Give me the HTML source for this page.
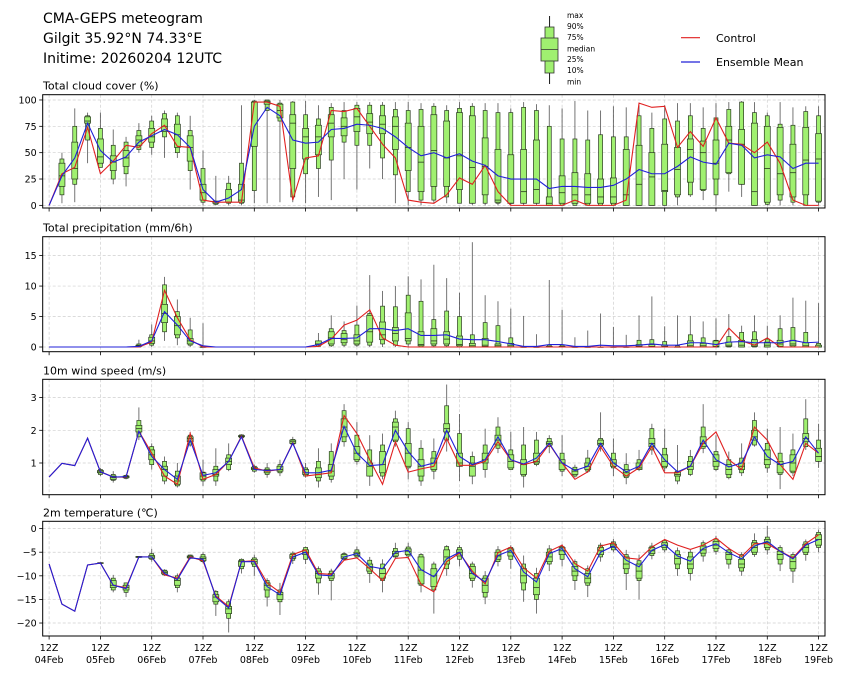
<!DOCTYPE html>
<html><head><meta charset="utf-8"><style>
body{margin:0;background:#fff;}
svg{display:block;font-family:"DejaVu Sans","Liberation Sans",sans-serif;}
</style></head><body>
<svg id="chart" width="846" height="680" viewBox="0 0 846 680">
<g>
<text x="43" y="23" font-size="14" fill="#000">CMA-GEPS meteogram</text>
<text x="43" y="43" font-size="14" fill="#000">Gilgit 35.92°N 74.33°E</text>
<text x="43" y="63" font-size="14" fill="#000">Initime: 20260204 12UTC</text>
</g>
<g>
<line x1="549.6" y1="16" x2="549.6" y2="84" stroke="#000" stroke-width="0.9"/>
<rect x="545" y="27" width="9" height="46" fill="#a0f070" stroke="#333" stroke-width="0.8"/>
<rect x="541" y="38" width="17" height="23" fill="#a0f070" stroke="#333" stroke-width="0.8"/>
<line x1="541" y1="49.5" x2="558" y2="49.5" stroke="#333" stroke-width="0.8"/>
<g font-size="7.5" fill="#000">
<text x="567" y="18">max</text><text x="567" y="29">90%</text><text x="567" y="40">75%</text><text x="567" y="51.5">median</text><text x="567" y="62">25%</text><text x="567" y="73">10%</text><text x="567" y="84.5">min</text>
</g>
</g>
<g>
<line x1="681" y1="37.7" x2="700" y2="37.7" stroke="#e02020" stroke-width="1.2"/>
<text x="716" y="42" font-size="11">Control</text>
<line x1="681" y1="62" x2="700" y2="62" stroke="#2020d8" stroke-width="1.2"/>
<text x="716" y="66" font-size="11">Ensemble Mean</text>
</g>
<g id="panels"></g>
</svg>
<script>
// ---- data ----
const dayLabels = ["04Feb","05Feb","06Feb","07Feb","08Feb","09Feb","10Feb","11Feb","12Feb","13Feb","14Feb","15Feb","16Feb","17Feb","18Feb","19Feb"];
const cloudTicks = [0,25,50,75,100];
const precipTicks = [0,5,10,15];
const windTicks = [1,2,3];
const tempTicks = [0,-5,-10,-15,-20];

const cloudBoxes = [null,[2,10,18,28,40,44,50],[3,20,25,35,60,75,92],[40,62,78,80,84,85,88],[38,36,40,46,63,73,88],[20,25,33,41,47,57,72],[18,30,37,45,52,60,65],[50,53,57,62,66,71,78],[48,55,60,65,73,80,85],[45,65,70,75,82,87,90],[45,50,55,67,77,85,88],[15,33,42,55,66,71,85],[0,3,5,12,20,35,52],[0,1,2,3,4,4,28],[0,2,3,3,15,21,28],[0,2,3,5,20,40,95],[2,14,56,98,98,99,100],[2,90,96,98,99,100,100],[3,80,83,90,96,97,100],[3,8,35,78,86,98,99],[2,30,44,65,73,86,99],[8,35,48,65,76,82,95],[5,43,65,78,86,93,97],[25,60,66,75,83,90,98],[15,57,70,84,92,95,98],[35,57,68,79,87,95,98],[25,45,68,77,85,95,98],[2,29,53,75,84,91,98],[0,13,33,55,78,90,98],[0,5,13,41,75,91,97],[2,5,18,52,86,94,97],[2,8,18,45,80,90,95],[2,2,15,47,88,92,98],[0,2,2,36,85,94,97],[0,2,10,37,64,90,97],[0,2,3,5,53,88,97],[0,2,2,2,48,88,92],[0,2,2,13,53,93,98],[0,2,2,15,62,90,96],[0,0,0,2,8,75,95],[0,0,2,12,28,63,92],[0,0,2,10,31,63,99],[0,0,2,10,30,62,90],[0,0,2,8,25,67,90],[0,0,2,8,26,65,94],[0,0,0,10,53,65,93],[0,0,0,20,57,85,95],[0,0,0,27,50,73,88],[0,0,13,14,58,82,95],[0,8,10,34,55,80,97],[8,10,22,53,63,85,97],[5,14,15,50,61,73,93],[0,10,25,40,62,83,97],[13,30,31,62,75,91,98],[8,20,20,58,72,98,99],[0,0,0,13,78,88,98],[0,1,3,35,75,85,88],[0,5,10,30,74,77,98],[0,3,8,31,58,76,93],[0,0,10,43,74,89,94],[0,3,4,44,68,85,94]];
const cloudCtrl = [0,30,36,74,30,42,57,55,68,76,56,55,5,3,3,3,98,98,94,5,45,47,90,89,92,75,58,45,5,3,2,10,26,20,38,13,0,0,0,0,0,5,0,0,0,5,97,93,94,55,70,56,83,59,58,50,60,40,5,0,0];
const cloudMean = [0,28,45,78,52,41,46,60,66,72,67,55,15,3,7,15,75,93,85,62,59,60,72,73,77,76,73,65,55,47,50,45,49,42,38,28,25,25,25,16,18,18,17,17,19,25,34,30,30,37,46,41,39,59,57,45,48,46,35,40,40];

const precipBoxes = [null,null,null,null,null,null,null,[0,0,0.1,0.2,0.3,0.5,1.2],[0,0.3,0.6,1,1.6,2,3.7],[1,2.5,4,5.5,7,10.2,11.5],[0.3,1.5,2,3.5,5,5.8,7.8],[0,0.3,0.5,1,1.4,2.8,4.8],[0,0,0,0,0,0,3.9],null,null,null,null,null,null,null,null,[0,0.1,0.3,0.5,1,1,2.3],[0,0.2,0.5,1.5,2.5,3,5.2],[0,0.3,0.7,1.2,2.2,2.7,4.2],[0,0.3,0.5,1,2,3.6,6.8],[0,0.3,0.8,2.5,5.2,5.5,11.8],[0,0.5,1.2,2,4.1,6.7,9.2],[0,0.3,1,2.2,3.2,6.6,10],[0,0.5,1,1.4,5.6,8.5,11.6],[0,0,0.2,0.4,2.5,7.5,11.1],[0,0.2,0.5,1,3,4.5,13.5],[0,0.2,0.5,1.3,2.5,5.9,11.3],[0,0,0.2,0.4,1.8,5,8.9],[0,0,0,0.2,0.6,2,17.2],[0,0,0.1,0.3,1.4,4,8.5],[0,0,0,0.2,0.5,3.5,7.5],[0,0,0,0.2,0.6,1.5,6.3],[0,0,0,0,0,0,5.1],[0,0,0,0,0,0,2.1],[0,0,0,0,0.1,0.3,11],[0,0,0,0,0.1,0.3,6.1],[0,0,0,0,0,0,1.6],[0,0,0,0,0,0,2.7],[0,0,0,0,0,0,5.5],[0,0,0,0,0,0,3.3],[0,0,0,0,0,0,2],[0,0,0,0.1,0.4,1.1,5.2],[0,0,0,0.1,0.4,1.2,8.3],[0,0,0,0.1,0.3,0.9,3.4],[0,0,0,0,0,0.2,5.2],[0,0,0,0.2,1,2,5.1],[0,0,0,0.2,0.6,1.5,4.2],[0,0,0,0.1,1,1.1,4.7],[0,0,0.1,0.3,0.8,1.7,5.4],[0,0,0,0.3,1.1,2.4,3.5],[0,0,0.1,0.3,1.2,2.5,5.2],[0,0,0,0.3,0.8,1.3,3.5],[0,0,0.1,0.5,1.1,3,5.2],[0,0,0.2,0.5,1.1,3.2,8.1],[0,0,0,0.2,0.7,2.4,7.6],[0,0,0,0,0.3,0.6,7.2]];
const precipCtrl = [0,0,0,0,0,0,0,0,0.8,9.3,4.8,1.2,0,0,0,0,0,0,0,0,0,0.1,1.3,3.6,4.4,6.1,1.5,0.3,0,0,0,0,0,0,0,0,0,0,0,0,0,0,0,0,0,0,0,0,0,0,0,0,0,3.1,1,0.3,1.5,0,0,0,0];
const precipMean = [0,0,0,0,0,0,0,0.1,1.0,5.8,3.6,1.0,0.2,0,0,0,0,0,0,0,0,0.4,1.4,1.4,1.5,3.0,3.0,2.7,3.0,1.9,1.9,2.0,1.3,1.2,1.2,0.9,0.5,0.1,0.1,0.4,0.4,0.1,0.1,0.3,0.2,0.2,0.3,0.5,0.3,0.3,0.7,0.7,0.4,0.8,0.9,0.7,0.7,0.7,1.1,0.7,0.8];

const windBoxes = [null,null,null,null,[0.6,0.65,0.7,0.73,0.77,0.8,0.85],[0.4,0.47,0.5,0.55,0.6,0.65,0.75],[0.5,0.53,0.55,0.58,0.6,0.62,0.65],[1.7,1.8,1.95,2.05,2.15,2.3,2.7],[0.8,0.95,1.1,1.25,1.4,1.5,1.6],[0.35,0.45,0.6,0.8,0.9,1.05,1.2],[0.25,0.3,0.35,0.45,0.6,0.75,1.0],[1.5,1.55,1.65,1.75,1.8,1.85,1.95],[0.3,0.45,0.5,0.6,0.7,0.72,1.1],[0.3,0.45,0.6,0.65,0.8,0.9,1.45],[0.75,0.8,0.95,1.05,1.15,1.25,1.6],[1.75,1.77,1.8,1.82,1.84,1.86,1.88],[0.7,0.75,0.8,0.83,0.87,0.9,0.95],[0.55,0.65,0.7,0.75,0.8,0.85,1.0],[0.6,0.7,0.75,0.8,0.9,0.95,1.1],[1.55,1.58,1.6,1.65,1.7,1.72,1.8],[0.55,0.6,0.65,0.7,0.8,0.85,1.0],[0.25,0.45,0.55,0.65,0.85,1.05,1.45],[0.4,0.5,0.6,0.75,0.95,1.35,1.6],[1.5,1.65,1.8,2.1,2.35,2.6,2.8],[0.95,1.05,1.1,1.3,1.5,1.85,2.25],[0.3,0.6,0.6,0.9,1.0,1.4,1.85],[0.5,0.6,0.7,0.95,1.35,1.55,1.9],[1.5,1.65,1.7,2.1,2.25,2.35,2.6],[0.5,0.85,0.9,1.3,1.6,2.05,2.25],[0.3,0.45,0.6,0.9,1.1,1.45,1.7],[0.5,0.75,0.8,1.0,1.15,1.35,1.75],[1.35,1.7,1.95,2.05,2.2,2.75,3.4],[0.45,0.9,0.9,1.0,1.3,1.9,2.5],[0.35,0.6,0.6,0.9,1.0,1.2,1.35],[0.55,0.8,1.0,1.1,1.3,1.55,2.05],[1.3,1.45,1.55,1.7,1.85,2.1,2.4],[0.8,0.8,0.85,1.05,1.25,1.4,1.95],[0.25,0.6,0.65,0.95,1.1,1.55,2.1],[0.9,0.95,1.0,1.05,1.3,1.7,1.95],[1.3,1.5,1.55,1.6,1.65,1.75,1.85],[0.6,0.75,0.8,1.0,1.1,1.3,1.85],[0.55,0.6,0.65,0.75,0.8,0.87,0.95],[0.7,0.75,0.8,0.9,1.0,1.15,1.4],[1.35,1.5,1.55,1.6,1.7,1.75,2.55],[0.6,0.85,0.9,1.0,1.1,1.3,1.75],[0.35,0.55,0.6,0.7,0.8,0.95,1.3],[0.75,0.8,0.8,0.85,1.0,1.1,1.4],[1.25,1.4,1.5,1.6,1.75,2.05,2.2],[0.75,0.85,0.9,1.05,1.25,1.45,2.05],[0.35,0.45,0.6,0.65,0.72,0.75,1.55],[0.6,0.65,0.8,0.9,1.05,1.2,1.4],[1.3,1.45,1.5,1.6,1.8,2.1,2.8],[0.75,0.8,0.9,1.05,1.25,1.35,1.85],[0.5,0.55,0.65,0.8,0.95,1.1,1.35],[0.6,0.7,0.8,0.9,1.0,1.15,1.6],[1.5,1.55,1.7,1.8,2.0,2.3,2.55],[0.7,0.85,0.95,1.1,1.4,1.6,2.05],[0.2,0.65,0.7,0.95,1.05,1.3,2.1],[0.6,0.7,0.75,1.0,1.25,1.4,1.9],[1.4,1.5,1.65,1.75,1.9,2.35,2.95],[0.85,1.05,1.05,1.2,1.45,1.7,2.2]];
const windCtrl = [0.57,0.99,0.92,1.76,0.73,0.57,0.57,1.97,1.3,0.6,0.35,1.9,0.5,0.65,1.05,1.82,0.85,0.75,0.8,1.62,0.6,0.65,0.7,2.45,1.9,1.1,0.35,1.65,0.72,0.82,0.9,1.75,0.93,0.93,1.05,1.65,1.1,0.95,1.05,1.58,1.0,0.5,0.73,1.5,0.9,0.6,0.85,1.5,0.7,0.7,0.9,1.6,1.95,1.1,0.8,2.1,1.7,0.95,0.5,1.6,1.3];
const windMean = [0.57,0.99,0.92,1.76,0.73,0.57,0.58,1.97,1.2,0.8,0.5,1.7,0.62,0.7,1.05,1.8,0.8,0.77,0.8,1.6,0.7,0.7,0.78,2.12,1.3,0.92,0.95,2.0,1.35,0.9,1.0,2.0,1.2,0.95,1.1,1.8,1.1,0.97,1.15,1.6,1.0,0.77,0.9,1.6,1.0,0.73,0.9,1.6,1.1,0.73,0.9,1.7,1.1,0.88,1.0,1.8,1.2,0.95,1.05,1.8,1.3];

const tempBoxes = [null,null,null,null,[-7.5,-7.4,-7.35,-7.3,-7.25,-7.2,-7.1],[-13.5,-13,-12.5,-12,-11,-10.5,-9.8],[-14.5,-13.5,-13,-12.5,-12,-11.5,-11.5],[-6.2,-6.1,-6.1,-6,-5.9,-5.9,-5.8],[-7,-6.5,-6.3,-6,-5.7,-5.3,-4.3],[-10,-9.8,-9.6,-9.3,-9,-8.8,-8.6],[-13.5,-12.5,-12,-11,-10.5,-10,-9.5],[-6.5,-6.3,-6.2,-6,-5.8,-5.6,-5.5],[-7.3,-7,-6.8,-6.3,-6,-5.5,-5],[-18.5,-16,-15.5,-14.5,-14,-13.3,-13],[-22,-19,-18,-17,-16.5,-15.5,-15],[-9.5,-8.5,-8,-7,-6.8,-6.5,-6.3],[-10,-8,-7.5,-7,-6.5,-6.2,-5.5],[-16.5,-14.5,-13,-12,-11.5,-11,-10.5],[-18.3,-15.5,-15,-14,-13.5,-13,-11.5],[-7.5,-6.7,-6.3,-6,-5.5,-5.2,-4.8],[-7.5,-6.5,-5.5,-5,-4.5,-4,-3.8],[-14,-11.5,-10.5,-9.5,-9,-8.5,-8],[-15.2,-11,-10.5,-10,-9.5,-9,-8.5],[-6.8,-6.5,-6.3,-6,-5.5,-5.3,-5],[-6.3,-6,-5.7,-5.3,-5,-4.5,-3.8],[-11.5,-9.5,-9,-8.3,-7.5,-6.7,-6],[-13.5,-11,-10.5,-9.5,-8.5,-7.5,-6.5],[-6.3,-6,-5.8,-5.3,-4.8,-4.2,-3],[-6.5,-5.8,-5.5,-4.8,-4.3,-3.9,-3],[-13.5,-12,-11.7,-8.8,-6,-5.5,-5.2],[-18,-13,-12.3,-10,-8.5,-7.5,-7],[-10,-8.5,-7.5,-6,-4.5,-3.8,-3.5],[-8,-6.5,-5.8,-5,-4.5,-4,-3.5],[-12.5,-11,-10.5,-9.5,-8,-7.5,-7],[-16,-14.5,-13.5,-12,-10.5,-10,-9],[-8,-7,-6.5,-5.8,-5,-4.5,-3.7],[-8.5,-6.5,-5.8,-5,-4.3,-4,-3.5],[-15.5,-13,-11.5,-10,-8.5,-7.5,-5.7],[-18,-15,-14,-12.5,-10.5,-9.5,-8.3],[-9,-7.5,-7,-6,-5,-4.3,-3.5],[-8,-6.5,-5.5,-4.7,-4,-3.8,-3.3],[-13,-11,-10,-9,-8,-7,-6.5],[-14.5,-12,-11.5,-10.5,-9.5,-8.5,-7.8],[-7,-6,-5.5,-4.7,-4,-3.5,-3],[-5,-4.5,-4,-3.7,-3.3,-2.8,-2.2],[-13,-9.5,-8.5,-7.5,-6,-5.5,-4.5],[-15,-11,-10.5,-9,-7.5,-6.8,-5.5],[-6.5,-5.7,-5.3,-4.7,-4,-3.7,-3],[-5,-4.5,-4,-3.5,-3,-2.5,-2.3],[-10,-8.5,-7.5,-6.3,-5.5,-4.7,-4],[-11,-9.5,-8.5,-7.5,-6,-5,-4.5],[-7,-5.8,-5.2,-4.5,-3.7,-3,-2.5],[-5.5,-4.8,-4.2,-3.5,-2.7,-2.2,-1.5],[-8.5,-7.5,-6.5,-5.5,-5,-4.5,-4],[-10,-9,-8.3,-7.5,-6.5,-5.5,-5],[-6,-5.5,-5,-4,-3,-2.5,-1],[-5.5,-4.5,-4,-3,-2.3,-1.8,0.6],[-9,-7.5,-6.5,-5.5,-4.8,-4,-3.5],[-11.5,-9,-8.5,-7,-6,-5.5,-5],[-6.8,-5.5,-5,-4,-3.3,-2.8,-2.3],[-5,-4,-3.5,-2.3,-1.3,-0.8,-0.2]];
const tempCtrl = [-7.5,-16,-17.5,-7.7,-7.3,-12,-12.5,-6,-6,-9.8,-10.5,-6,-6.8,-14.3,-16.5,-7,-6.8,-11.5,-13.5,-5.5,-4.5,-9.5,-9.7,-6.7,-6.2,-8.5,-11,-6.3,-6.1,-11.8,-13.4,-7,-5.2,-9,-11.7,-5.1,-3.9,-8.3,-10.5,-4.8,-3.5,-7.4,-9,-3.7,-3,-6.2,-6.5,-3.9,-2.3,-3.5,-4.4,-3.5,-2,-4.2,-5.9,-3.2,-3.2,-4.8,-6.2,-3.2,-1.3];
const tempMean = [-7.5,-16,-17.5,-7.7,-7.3,-12,-12.7,-6,-6,-9.5,-10.8,-6.2,-6.5,-14.5,-16.8,-7,-7,-12.3,-14,-6,-5,-9.8,-10,-6,-5.3,-8,-8.5,-5,-4.6,-8.7,-10.2,-6.4,-5,-9.5,-11.3,-5.7,-4.6,-9.2,-11.3,-5.3,-4.2,-8.5,-10.2,-5,-3.7,-6.7,-8.1,-4.6,-3.4,-5.8,-6.9,-4.2,-3.2,-5.1,-6.4,-3.7,-2.7,-4.8,-6.4,-3.5,-2.3];

// ---- drawing ----
const NS="http://www.w3.org/2000/svg";
const root=document.getElementById('panels');
const X0=42.7, X1=825, IMIN=-0.5, IMAX=60.5;
function xs(i){return X0+(i-IMIN)/(IMAX-IMIN)*(X1-X0);}
function mk(tag,attrs,parent){const e=document.createElementNS(NS,tag);for(const k in attrs)e.setAttribute(k,attrs[k]);parent.appendChild(e);return e;}
function fmt(v){return v<0?'\u2212'+Math.abs(v):String(v);}

const panels=[
 {name:'cloud',title:'Total cloud cover (%)',top:94.7,bot:208,ymin:-2.5,ymax:105,ticks:cloudTicks,boxes:cloudBoxes,ctrl:cloudCtrl,mean:cloudMean},
 {name:'precip',title:'Total precipitation (mm/6h)',top:236.7,bot:351.7,ymin:-0.77,ymax:18.1,ticks:precipTicks,boxes:precipBoxes,ctrl:precipCtrl,mean:precipMean},
 {name:'wind',title:'10m wind speed (m/s)',top:379.3,bot:494.7,ymin:0.03,ymax:3.56,ticks:windTicks,boxes:windBoxes,ctrl:windCtrl,mean:windMean},
 {name:'temp',title:'2m temperature (\u2103)',top:521.3,bot:636,ymin:-22.75,ymax:1.55,ticks:tempTicks,boxes:tempBoxes,ctrl:tempCtrl,mean:tempMean}
];

panels.forEach((p,pi)=>{
  const g=mk('g',{},root);
  
  
  const ys=v=>p.bot-(v-p.ymin)/(p.ymax-p.ymin)*(p.bot-p.top);
  const t=mk('text',{x:43,y:p.top-5,'font-size':11,fill:'#000'},g);
  t.textContent=p.title;
  
  
  p.ticks.forEach(v=>{
    const y=ys(v);
    mk('line',{x1:X0,x2:X1,y1:y,y2:y,stroke:'#cfcfcf','stroke-width':0.7,'stroke-dasharray':'3,2'},g);
    mk('line',{x1:X0-3.5,x2:X0,y1:y,y2:y,stroke:'#000','stroke-width':0.8},g);
    const tl=mk('text',{x:X0-6,y:y+3.5,'font-size':9.5,'text-anchor':'end',fill:'#000'},g);
    tl.textContent=fmt(v);
    
    
  });
  dayLabels.forEach((d,k)=>{
    const x=xs(k*4);
    mk('line',{x1:x,x2:x,y1:p.top,y2:p.bot,stroke:'#cfcfcf','stroke-width':0.7,'stroke-dasharray':'3,2'},g);
    mk('line',{x1:x,x2:x,y1:p.bot,y2:p.bot+3.5,stroke:'#000','stroke-width':0.8},g);
    if(pi===3){
      const a=mk('text',{x:x,y:p.bot+15,'font-size':9.5,'text-anchor':'middle'},g);
      a.textContent='12Z';
      
      
      const b=mk('text',{x:x,y:p.bot+27,'font-size':9.5,'text-anchor':'middle'},g);
      b.textContent=d;
      
      
    }
  });
  p.boxes.forEach((b,i)=>{
    if(!b) return;
    const x=xs(i);
    const bg=mk('g',{},g);
    
    
    mk('line',{x1:x,x2:x,y1:ys(b[0]),y2:ys(b[6]),stroke:'#333','stroke-opacity':0.75,'stroke-width':0.9},bg);
    mk('rect',{x:x-2,y:ys(b[5]),width:4,height:Math.max(0.3,ys(b[1])-ys(b[5])),fill:'#a0f070',stroke:'#2a3a20','stroke-width':0.7},bg);
    mk('rect',{x:x-3,y:ys(b[4]),width:6,height:Math.max(0.3,ys(b[2])-ys(b[4])),fill:'#a0f070',stroke:'#2a3a20','stroke-width':0.7},bg);
    mk('line',{x1:x-3,x2:x+3,y1:ys(b[3]),y2:ys(b[3]),stroke:'#2a3a20','stroke-width':0.8},bg);
  });
  const pc=p.ctrl.map((v,i)=>xs(i).toFixed(2)+','+ys(v).toFixed(2)).join(' ');
  const cl=mk('polyline',{points:pc,fill:'none',stroke:'#e02020','stroke-width':1.1},g);
  
  
  const pm=p.mean.map((v,i)=>xs(i).toFixed(2)+','+ys(v).toFixed(2)).join(' ');
  const ml=mk('polyline',{points:pm,fill:'none',stroke:'#2020d8','stroke-width':1.1},g);
  
  
  const fr=mk('rect',{x:X0,y:p.top,width:X1-X0,height:p.bot-p.top,fill:'none',stroke:'#000','stroke-width':1},g);
  
  
});
</script>
</body></html>
